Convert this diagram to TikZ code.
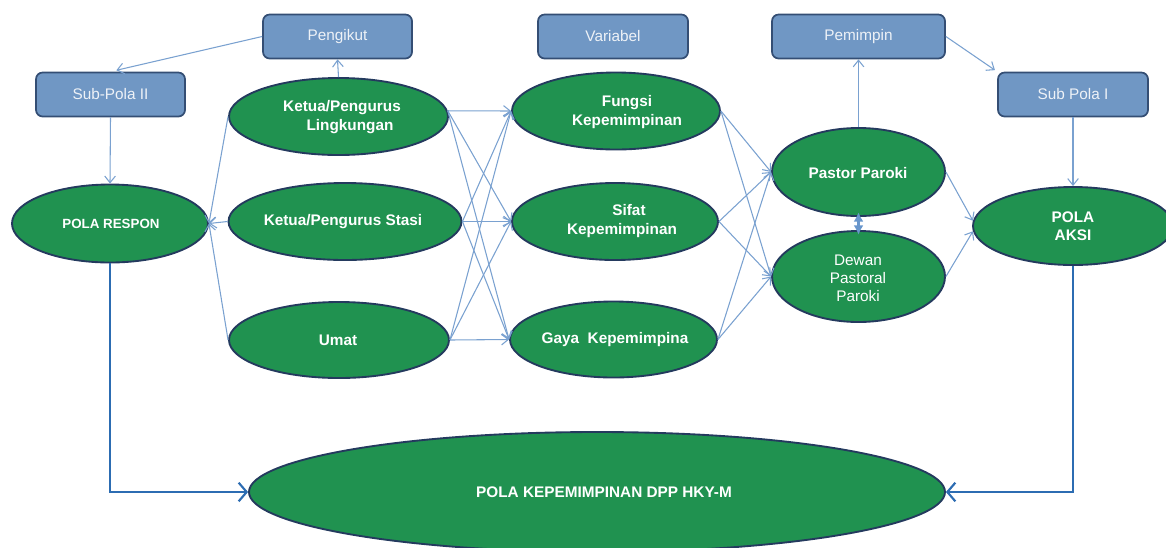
\documentclass[tikz,border=0pt]{standalone}
\usepackage{fontspec}
\setmainfont{Liberation Sans}
\usetikzlibrary{arrows.meta,shapes.geometric}
\definecolor{gfill}{RGB}{32,146,80}
\definecolor{gedge}{RGB}{36,58,94}
\definecolor{bfill}{RGB}{112,151,196}
\definecolor{bedge}{RGB}{52,78,116}
\definecolor{btext}{RGB}{238,242,247}
\definecolor{thinc}{RGB}{122,161,208}
\definecolor{thickc}{RGB}{44,108,178}
\definecolor{dblc}{RGB}{104,150,204}
\newcommand\dgbold{\fontsize{11.5}{14.25}\selectfont\bfseries}
\newcommand\dgreg{\fontsize{11.5}{13.5}\selectfont}
\begin{document}
\begin{tikzpicture}[x=0.75pt,y=-0.75pt,
  ell/.style 2 args={ellipse, draw=gedge, fill=gfill, line width=1.4pt,
    minimum width=#1*0.75pt, minimum height=#2*0.75pt, inner sep=0pt},
  box/.style 2 args={rectangle, rounded corners=5pt, draw=bedge, fill=bfill, line width=1.3pt,
    minimum width=#1*0.75pt, minimum height=#2*0.75pt, inner sep=0pt, text=btext, font=\dgreg},
  lbl/.style={text=white, font=\dgbold, inner sep=0pt, align=center},
  lblr/.style={text=white, font=\dgreg, inner sep=0pt, align=center},
  conn/.style={draw=thinc, line width=0.8pt, -{Straight Barb[length=5pt,width=8pt]}},
  thickarr/.style={draw=thickc, line width=1.6pt, -{Straight Barb[length=6pt,width=14pt]}},
  dbl/.style={draw=dblc, line width=2.4pt, {Latex[length=7pt,width=7.5pt]}-{Latex[length=7pt,width=7.5pt]}}
]
\useasboundingbox (0,0) rectangle (1166,547);
\clip (0,0) rectangle (1166,547);

% boxes
\node[box={149}{44}] (pengikut) at (337.5,36.5) {Pengikut};
\node[box={150}{44}] (variabel) at (613,36.5) {Variabel};
\node[box={173}{44}] (pemimpin) at (858.5,36.5) {Pemimpin};
\node[box={149}{44}] (subII) at (110.5,94.5) {Sub-Pola II};
\node[box={150}{44}] (subI) at (1073,94.5) {Sub Pola I};

% ellipses
\node[ell={196}{78}] (respon) at (110,223.5) {};
\node[ell={219}{77}] (ketl) at (338.5,116.5) {};
\node[ell={233}{77}] (kets) at (345,221.5) {};
\node[ell={220}{76}] (umat) at (339,340) {};
\node[ell={208}{77}] (fungsi) at (616,111) {};
\node[ell={206}{77}] (sifat) at (615,221.5) {};
\node[ell={207}{76}] (gaya) at (613.5,339.5) {};
\node[ell={173}{88}] (pastor) at (858.5,172) {};
\node[ell={173}{91}] (dewan) at (858.5,276.5) {};
\node[ell={200}{78}] (aksi) at (1073,226) {};
\node[ell={696}{120}] (pk) at (597,492) {};

% ellipse texts
\node[lbl, font={\fontsize{10}{12}\selectfont\bfseries}] (responT) at (111,224) {POLA RESPON};
\node[lbl] (ketlT) at (342,117) {Ketua/Pengurus\\\hspace*{12pt}Lingkungan};
\node[lbl] (ketsT) at (343,222) {Ketua/Pengurus Stasi};
\node[lbl] (umatT) at (338,340) {Umat};
\node[lbl] (fungsiT) at (627,112.5) {Fungsi\\Kepemimpinan};
\node[lbl] (sifatT) at (622,221.5) {\hspace*{10.5pt}Sifat\\Kepemimpinan};
\node[lbl] (gayaT) at (615,340) {Gaya\ \ Kepemimpina};
\node[lbl] (pastorT) at (858,173) {Pastor Paroki};
\node[lblr] (dewanT) at (858,278) {Dewan\\Pastoral\\Paroki};
\node[lbl, font={\fontsize{11.5}{13.5}\selectfont\bfseries}] (aksiT) at (1073,226) {POLA\\AKSI};
\node[lbl] (pkT) at (604,492) {POLA KEPEMIMPINAN DPP HKY-M};

% top connectors
\draw[conn, shorten >=4.5pt] (pengikut.west) -- (subII.north);
\draw[conn] (ketl.north) -- (pengikut.south);
\draw[conn] (subII.south) -- (respon.north);
\draw[conn] (pastor.north) -- (pemimpin.south);
\draw[conn, shorten >=2pt] (pemimpin.east) -- (subI.north west);
\draw[conn] (subI.south) -- (aksi.north);

% left column to POLA RESPON
\foreach \s in {ketl,kets,umat}
  \draw[conn] (\s.west) -- (respon.east);

% left column to middle column
\foreach \s/\a in {ketl/3,kets/0,umat/0}
  \foreach \t in {fungsi,sifat,gaya}
    \draw[conn] (\s.\a) -- (\t.west);

% middle column to pastor / dewan
\foreach \s in {fungsi,sifat,gaya}
  \foreach \t in {pastor,dewan}
    \draw[conn] (\s.east) -- (\t.west);

% pastor / dewan to POLA AKSI
\draw[conn] (pastor.east) -- (aksi.177);
\draw[conn] (dewan.east) -- (aksi.183);

% double arrow
\draw[dbl] ([yshift=3.5pt]pastor.south) -- ([yshift=-3.5pt]dewan.north);

% thick connectors
\draw[thickarr] (respon.south) |- (pk.west);
\draw[thickarr] (aksi.south) |- (pk.east);
\end{tikzpicture}
\end{document}
